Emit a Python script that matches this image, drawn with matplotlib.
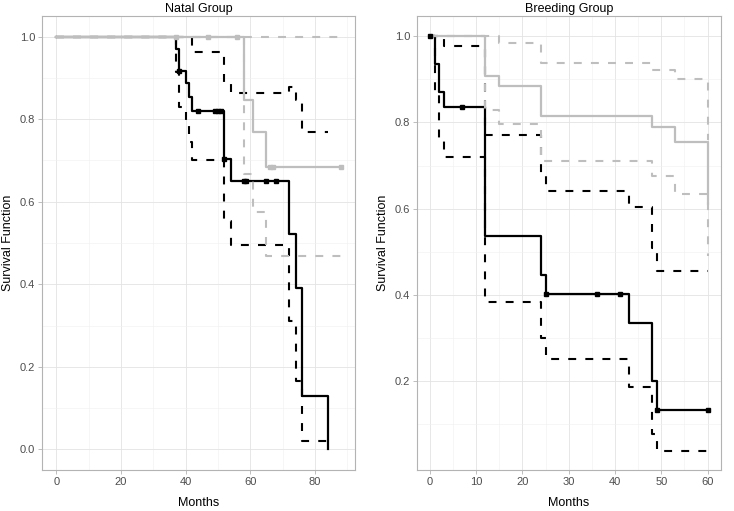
import numpy as np
import matplotlib
matplotlib.use('Agg')
from matplotlib import pyplot as plt

plt.rcParams['font.family'] = ['Liberation Sans', 'DejaVu Sans']

# Natal group, black stratum
natal_blk_t = [0, 37, 38, 40, 41, 42, 52, 54, 72, 74, 76, 84]
natal_blk_s = [1, 0.970, 0.916, 0.888, 0.853, 0.821, 0.704, 0.651, 0.522, 0.391, 0.129, 0.0]
natal_blk_up = [1, 1, 1, 1, 1, 0.962, 0.891, 0.863, 0.877, 0.847, 0.770, np.nan]
natal_blk_lo = [1, 0.915, 0.830, 0.790, 0.745, 0.700, 0.554, 0.494, 0.310, 0.165, 0.020, np.nan]
natal_blk_cens = [38, 44, 49, 50, 51, 52, 58, 58.6, 65, 68]

# Natal group, grey stratum
natal_gry_t = [0, 58, 61, 65, 88]
natal_gry_s = [1, 0.846, 0.769, 0.684, 0.684]
natal_gry_up = [1, 1, 1, 1, 1]
natal_gry_lo = [1, 0.668, 0.575, 0.468, 0.468]
natal_gry_cens = [37, 47, 56, 66, 67, 88]

# Breeding group, black stratum
breed_blk_t = [0, 1, 2, 3, 12, 24, 25, 43, 48, 49, 60]
breed_blk_s = [1, 0.935, 0.870, 0.837, 0.537, 0.447, 0.402, 0.334, 0.200, 0.133, 0.133]
breed_blk_up = [1, 1, 1, 0.978, 0.770, 0.681, 0.640, 0.603, 0.510, 0.456, 0.456]
breed_blk_lo = [1, 0.865, 0.765, 0.720, 0.384, 0.300, 0.252, 0.186, 0.077, 0.039, 0.039]
breed_blk_cens = [0, 7, 25, 36, 41, 49, 60]

# Breeding group, grey stratum
breed_gry_t = [0, 12, 15, 24, 48, 53, 60]
breed_gry_s = [1, 0.907, 0.884, 0.816, 0.789, 0.754, 0.611]
breed_gry_up = [1, 1, 0.985, 0.939, 0.922, 0.902, 0.760]
breed_gry_lo = [1, 0.828, 0.797, 0.710, 0.677, 0.633, 0.490]
breed_gry_cens = []

GREY = '#BEBEBE'


def step_value(t, s, x):
    idx = np.searchsorted(t, x, side='right') - 1
    return np.asarray(s)[idx]


def draw_km(ax, t, s, up, lo, cens, color, z):
    ax.step(t, up, where='post', color=color, lw=1.5, dashes=(3.8, 4.4), zorder=z)
    ax.step(t, lo, where='post', color=color, lw=1.5, dashes=(3.8, 4.4), zorder=z)
    ax.step(t, s, where='post', color=color, lw=1.6, zorder=z + 1)
    if len(cens):
        ax.plot(cens, step_value(t, s, cens), 's', color=color, ms=3, zorder=10 + z, lw=0)


def style_axes(ax, title):
    for sp in ax.spines.values():
        sp.set_color('#B3B3B3')
        sp.set_linewidth(0.8)
    ax.grid(True, which='major', color='#E3E3E3', lw=0.6)
    ax.grid(True, which='minor', color='#F0F0F0', lw=0.4)
    ax.set_axisbelow(True)
    ax.tick_params(which='major', length=3, width=0.6, color='#B3B3B3',
                   labelsize=8, labelcolor='#4D4D4D', pad=2)
    ax.tick_params(which='minor', length=0)
    ax.set_title(title, fontsize=9, pad=3)
    ax.set_xlabel('Months', fontsize=9, labelpad=7)
    ax.set_ylabel('Survival Function', fontsize=9, labelpad=4)


fig = plt.figure(figsize=(7.34, 5.11), dpi=100)
ax1 = fig.add_axes([42 / 734, 1 - 470 / 511, 313 / 734, 454 / 511])
ax2 = fig.add_axes([417 / 734, 1 - 470 / 511, 304 / 734, 454 / 511])

draw_km(ax1, natal_blk_t, natal_blk_s, natal_blk_up, natal_blk_lo, natal_blk_cens, 'black', 2)
draw_km(ax1, natal_gry_t, natal_gry_s, natal_gry_up, natal_gry_lo, natal_gry_cens, GREY, 5)
ax1.set_xlim(-4.4, 92.4)
ax1.set_ylim(-0.05, 1.05)
ax1.set_xticks([0, 20, 40, 60, 80])
ax1.set_xticks([10, 30, 50, 70, 90], minor=True)
ax1.set_yticks([0.0, 0.2, 0.4, 0.6, 0.8, 1.0])
ax1.set_yticks([0.1, 0.3, 0.5, 0.7, 0.9], minor=True)
ax1.set_yticklabels(['0.0', '0.2', '0.4', '0.6', '0.8', '1.0'])
style_axes(ax1, 'Natal Group')

draw_km(ax2, breed_blk_t, breed_blk_s, breed_blk_up, breed_blk_lo, breed_blk_cens, 'black', 2)
draw_km(ax2, breed_gry_t, breed_gry_s, breed_gry_up, breed_gry_lo, breed_gry_cens, GREY, 5)
ax2.set_xlim(-2.8, 62.9)
ax2.set_ylim(-0.006, 1.047)
ax2.set_xticks([0, 10, 20, 30, 40, 50, 60])
ax2.set_xticks([5, 15, 25, 35, 45, 55], minor=True)
ax2.set_yticks([0.2, 0.4, 0.6, 0.8, 1.0])
ax2.set_yticks([0.1, 0.3, 0.5, 0.7, 0.9], minor=True)
ax2.set_yticklabels(['0.2', '0.4', '0.6', '0.8', '1.0'])
style_axes(ax2, 'Breeding Group')

fig.savefig('out.png', dpi=100)
